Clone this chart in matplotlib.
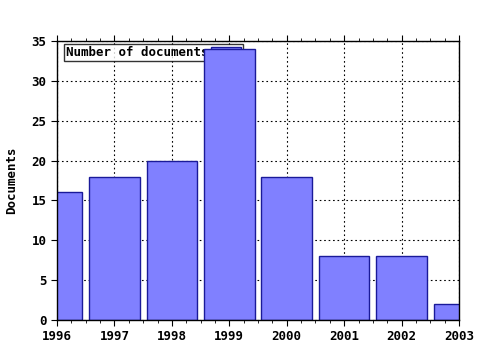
import numpy as np
import matplotlib
matplotlib.use("Agg")
import matplotlib.pyplot as plt
from matplotlib.ticker import MultipleLocator

years = [1996, 1997, 1998, 1999, 2000, 2001, 2002, 2003]
documents = [16, 18, 20, 34, 18, 8, 8, 2]
x_ticks = [1996, 1997, 1998, 1999, 2000, 2001, 2002, 2003]
y_ticks = [0, 5, 10, 15, 20, 25, 30, 35]

plt.rcParams['font.family'] = ['DejaVu Sans Mono']
plt.rcParams['font.weight'] = 'bold'
plt.rcParams['font.size'] = 9

fig = plt.figure(figsize=(4.8, 3.5), dpi=100)
ax = fig.add_axes([57 / 480, 1 - 320 / 350, 402 / 480, 279 / 350])

ax.bar(years, documents, width=0.88, color='#8080ff', edgecolor='#1a1a99',
       linewidth=1, label='Number of documents', zorder=3)

ax.set_xlim(1996, 2003)
ax.set_ylim(0, 35)
ax.set_xticks(x_ticks)
ax.set_xticklabels([str(y) for y in x_ticks])
ax.set_yticks(y_ticks)
ax.xaxis.set_minor_locator(MultipleLocator(0.25))
ax.tick_params(axis='x', which='both', direction='out', top=True, labeltop=False)
ax.tick_params(axis='x', which='major', length=4, pad=3)
ax.tick_params(axis='x', which='minor', length=2)
ax.tick_params(axis='y', direction='out', length=4, right=False)
ax.set_ylabel('Documents', fontweight='bold', labelpad=10)

ax.grid(True, which='major', color='black', linestyle=(0, (1.5, 2.5)), linewidth=0.8, zorder=0)
for s in ax.spines.values():
    s.set_linewidth(1)
    s.set_zorder(4)

leg = ax.legend(loc='upper left', bbox_to_anchor=(0.017, 0.99), markerfirst=False,
                frameon=True, fancybox=False, borderpad=0.15, handlelength=2.4,
                handleheight=0.6, handletextpad=0.2, borderaxespad=0)
leg.get_frame().set_edgecolor('black')
leg.get_frame().set_linewidth(1)
leg.set_zorder(2)

fig.savefig('out.png', dpi=100)
